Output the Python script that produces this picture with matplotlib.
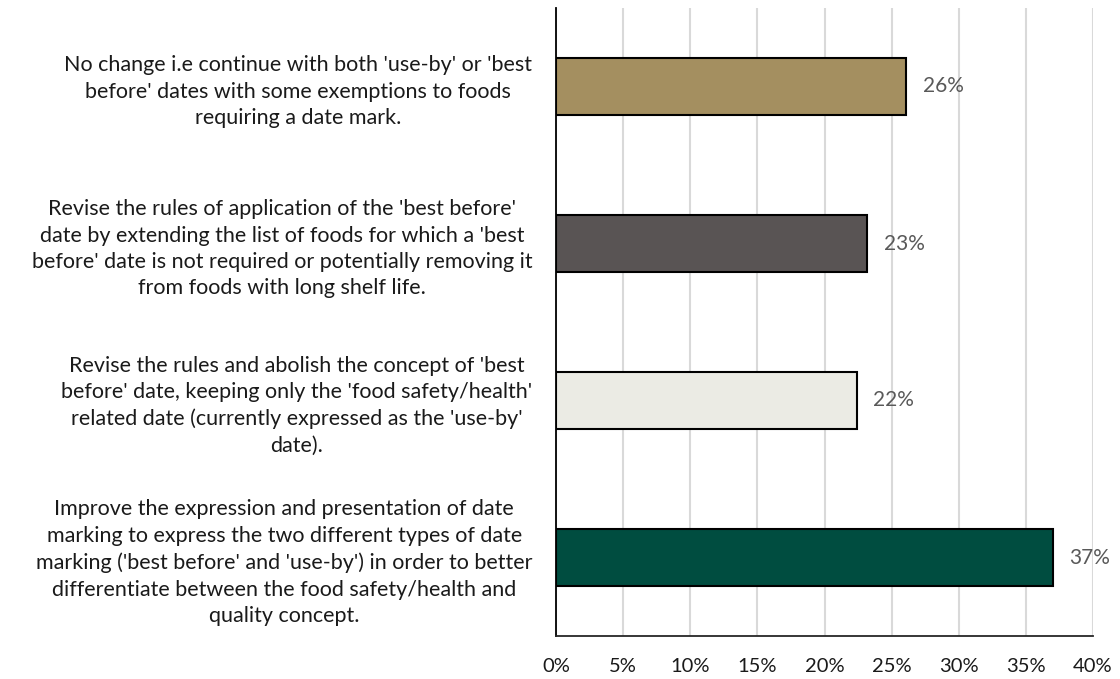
import matplotlib.pyplot as plt
from matplotlib.ticker import FuncFormatter

plt.rcParams['font.family'] = ['Lato', 'DejaVu Sans']

# answer options, top to bottom
options = [
    "No change i.e continue with both 'use-by' or 'best\nbefore' dates with some exemptions to foods\nrequiring a date mark.",
    "Revise the rules of application of the 'best before'\ndate by extending the list of foods for which a 'best\nbefore' date is not required or potentially removing it\nfrom foods with long shelf life.",
    "Revise the rules and abolish the concept of 'best\nbefore' date, keeping only the 'food safety/health'\nrelated date (currently expressed as the 'use-by'\ndate).",
    "Improve the expression and presentation of date\nmarking to express the two different types of date\nmarking ('best before' and 'use-by') in order to better\ndifferentiate between the food safety/health and\nquality concept.",
]
shares = [0.261, 0.232, 0.224, 0.370]
colours = ['#A48F60', '#595454', '#EBEBE4', '#004D40']
x_ticks = [0, 0.05, 0.10, 0.15, 0.20, 0.25, 0.30, 0.35, 0.40]

fig = plt.figure(figsize=(11.2, 6.79), dpi=100)
ax = fig.add_axes([556 / 1120, 1 - 636 / 679, (1093 - 556) / 1120, (636 - 8) / 679])

pos = list(range(len(options)))
ax.barh(pos, shares, height=0.36, color=colours, edgecolor='black', linewidth=1.5, zorder=3)

for y, v in zip(pos, shares):
    ax.text(v + 0.012, y, f"{v:.0%}", va='center', ha='left', fontsize=15, color='#595959')

ax.set_xlim(0, 0.40)
ax.set_ylim(3.5, -0.5)
ax.set_xticks(x_ticks)
ax.xaxis.set_major_formatter(FuncFormatter(lambda v, _: f"{v:.0%}"))
ax.set_yticks(pos)
ax.set_yticklabels(options, multialignment='center', fontsize=15.5, color='#1a1a1a', linespacing=1.4)
ax.tick_params(axis='y', length=0, pad=17)
ax.tick_params(axis='x', length=0, pad=16, labelsize=14.5, colors='#1a1a1a')

ax.grid(axis='x', color='#D9D9D9', linewidth=1.5, zorder=0)
for s in ['top', 'right']:
    ax.spines[s].set_visible(False)
ax.spines['left'].set_linewidth(1.3)
ax.spines['bottom'].set_linewidth(1.3)
ax.spines['bottom'].set_color('#262626')

fig.savefig('out.png', dpi=100)
